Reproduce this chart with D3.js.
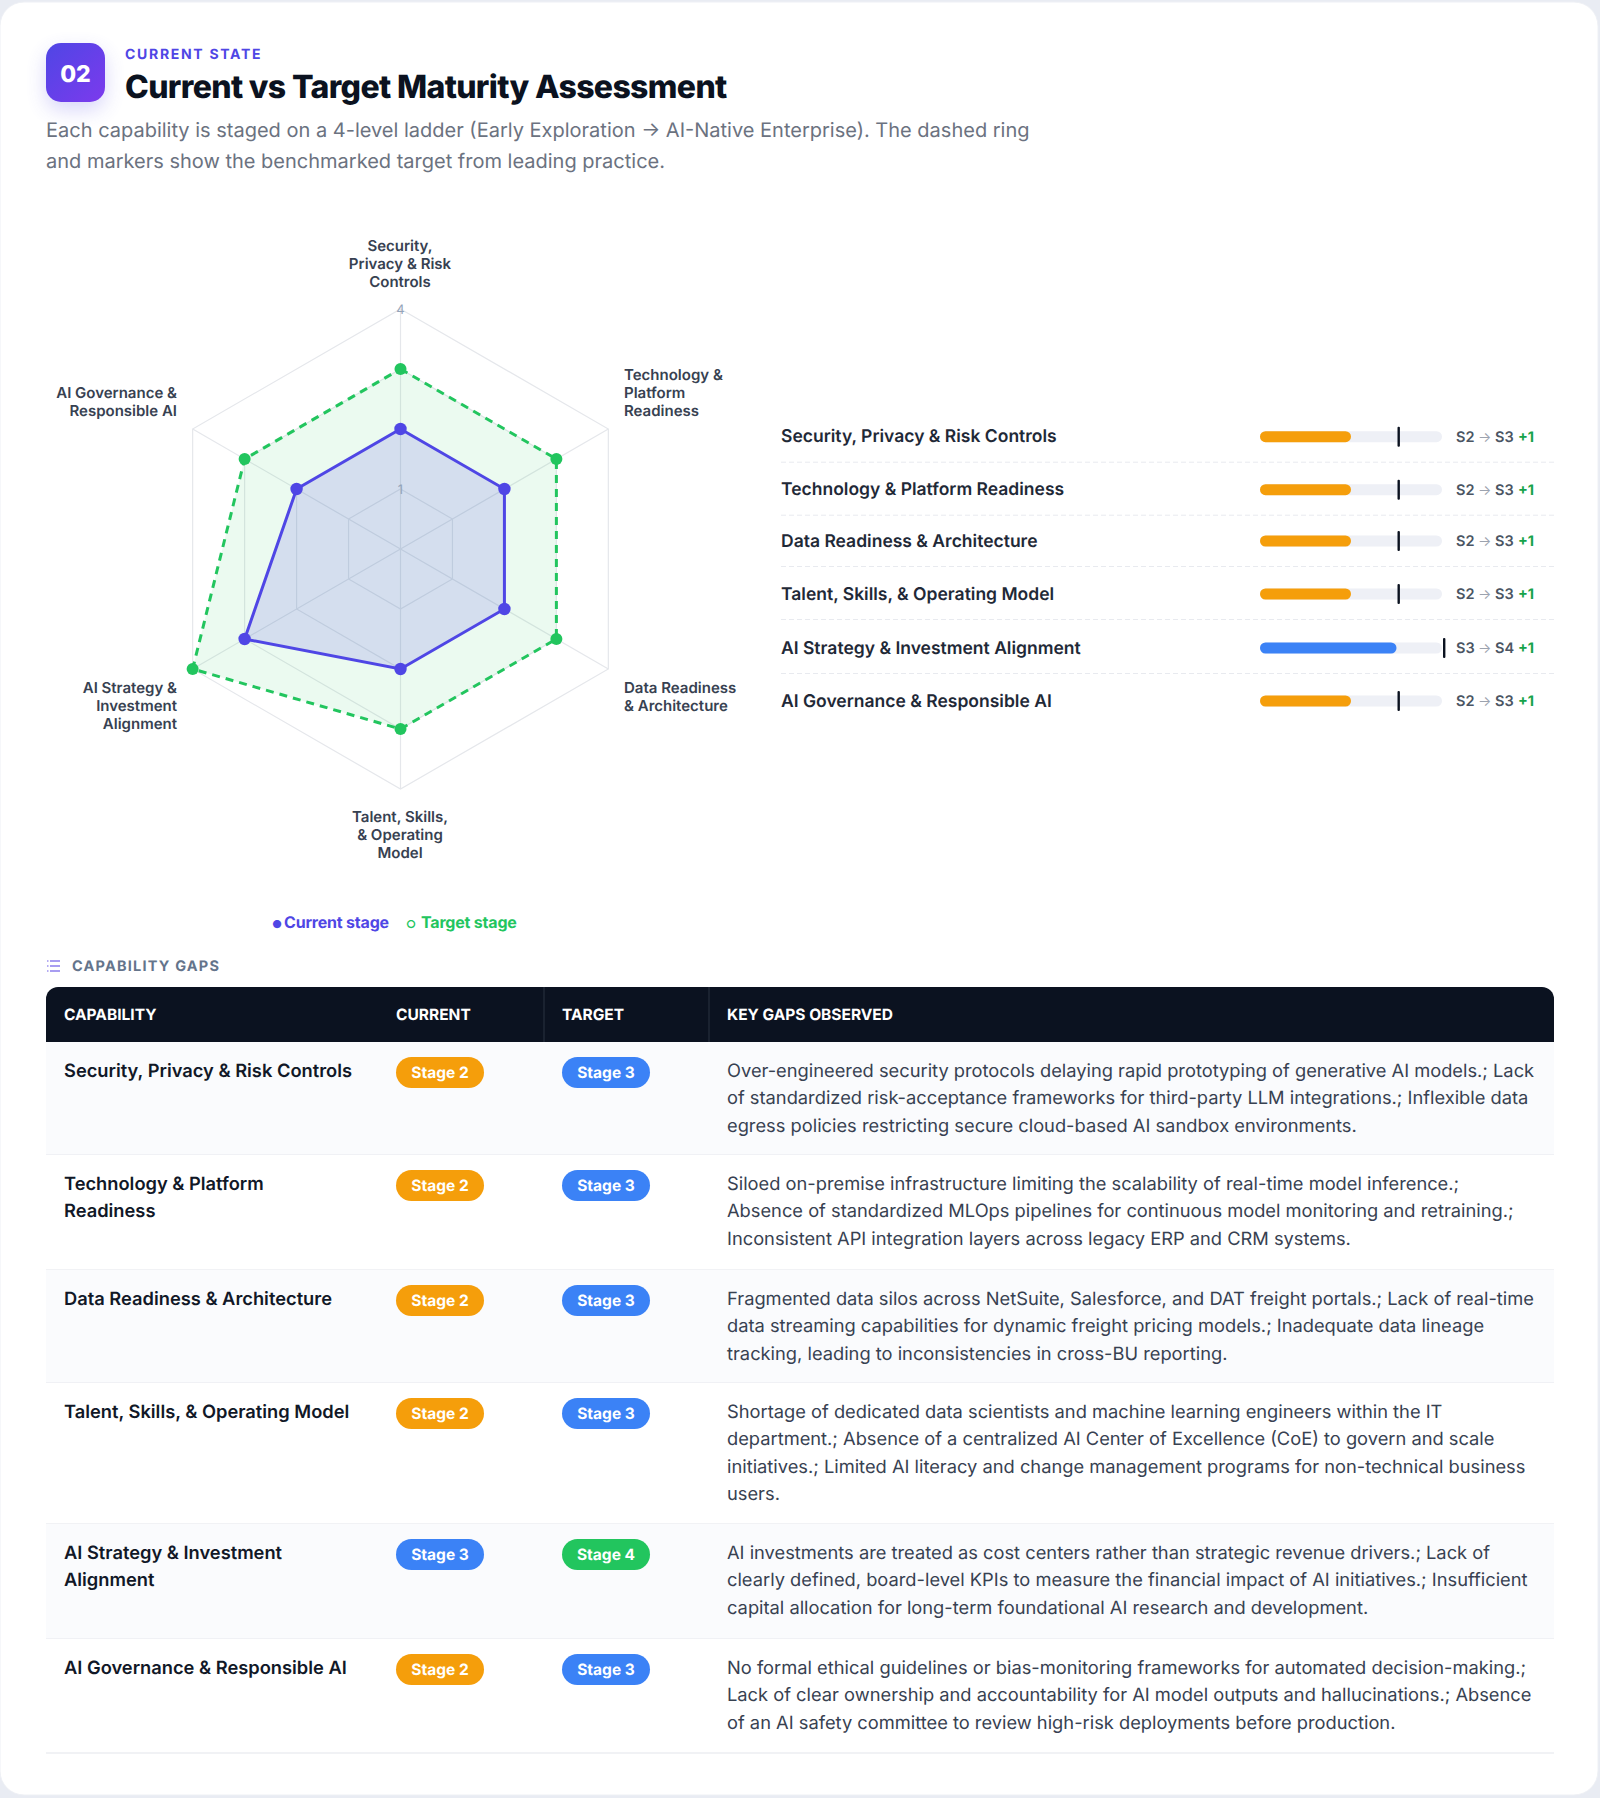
<!DOCTYPE html>
<html><head><meta charset="utf-8">
<script src="https://cdn.jsdelivr.net/npm/d3@7"></script>
<style>html,body{margin:0;padding:0;background:#e9ecf3}svg{display:block}text{font-family:Inter,sans-serif;text-rendering:geometricPrecision}</style>
</head><body><svg id="c" width="1600" height="1798"></svg>
<script>
const capabilities=["Security, Privacy & Risk Controls","Technology & Platform Readiness","Data Readiness & Architecture","Talent, Skills, & Operating Model","AI Strategy & Investment Alignment","AI Governance & Responsible AI"];
const currentStage=[2,2,2,2,3,2];
const targetStage=[3,3,3,3,4,3];
const axisLabels=[["Security,","Privacy & Risk","Controls"],["Technology &","Platform","Readiness"],["Data Readiness","& Architecture"],["Talent, Skills,","& Operating","Model"],["AI Strategy &","Investment","Alignment"],["AI Governance &","Responsible AI"]];
const tableCapability=[["Security, Privacy & Risk Controls"],["Technology & Platform","Readiness"],["Data Readiness & Architecture"],["Talent, Skills, & Operating Model"],["AI Strategy & Investment","Alignment"],["AI Governance & Responsible AI"]];
const gapLines=[
["Over-engineered security protocols delaying rapid prototyping of generative AI models.; Lack","of standardized risk-acceptance frameworks for third-party LLM integrations.; Inflexible data","egress policies restricting secure cloud-based AI sandbox environments."],
["Siloed on-premise infrastructure limiting the scalability of real-time model inference.;","Absence of standardized MLOps pipelines for continuous model monitoring and retraining.;","Inconsistent API integration layers across legacy ERP and CRM systems."],
["Fragmented data silos across NetSuite, Salesforce, and DAT freight portals.; Lack of real-time","data streaming capabilities for dynamic freight pricing models.; Inadequate data lineage","tracking, leading to inconsistencies in cross-BU reporting."],
["Shortage of dedicated data scientists and machine learning engineers within the IT","department.; Absence of a centralized AI Center of Excellence (CoE) to govern and scale","initiatives.; Limited AI literacy and change management programs for non-technical business","users."],
["AI investments are treated as cost centers rather than strategic revenue drivers.; Lack of","clearly defined, board-level KPIs to measure the financial impact of AI initiatives.; Insufficient","capital allocation for long-term foundational AI research and development."],
["No formal ethical guidelines or bias-monitoring frameworks for automated decision-making.;","Lack of clear ownership and accountability for AI model outputs and hallucinations.; Absence","of an AI safety committee to review high-risk deployments before production."]];
const gridLevels=[1,2,3,4];
const tickLabels=[1,4];
const tableHeaders=["CAPABILITY","CURRENT","TARGET","KEY GAPS OBSERVED"];
const subtitleLines=["Each capability is staged on a 4-level ladder (Early Exploration → AI-Native Enterprise). The dashed ring","and markers show the benchmarked target from leading practice."];

const svg=d3.select("#c");
const defs=svg.append("defs");
const grad=defs.append("linearGradient").attr("id","bg").attr("x1",0).attr("y1",0).attr("x2",1).attr("y2",1);
grad.append("stop").attr("offset",0).attr("stop-color","#4f46e5");
grad.append("stop").attr("offset",1).attr("stop-color","#7c3aed");
const blur=defs.append("filter").attr("id","sh").attr("x","-60%").attr("y","-60%").attr("width","220%").attr("height","220%");
blur.append("feGaussianBlur").attr("stdDeviation",10);
function T(g,x,y,s,o={}){const t=g.append("text").attr("x",x).attr("y",y).text(s)
 .attr("font-size",o.size||16).attr("font-weight",o.w||400).attr("fill",o.c||"#111").attr("text-anchor",o.a||"start");
 if(o.ls)t.attr("letter-spacing",o.ls);return t;}

svg.append("rect").attr("x",0).attr("y",2).attr("width",1598).attr("height",1793).attr("rx",24).attr("fill","#fff").attr("stroke","#eef0f5").attr("stroke-width",1);

// header
svg.append("rect").attr("x",46).attr("y",51).attr("width",59).attr("height",59).attr("rx",15).attr("fill","#4f46e5").attr("opacity",.22).attr("filter","url(#sh)");
svg.append("rect").attr("x",46).attr("y",43).attr("width",59).attr("height",59).attr("rx",15).attr("fill","url(#bg)");
T(svg,75.5,82,"02",{size:23,w:800,c:"#fff",a:"middle"});
T(svg,125,59,"CURRENT STATE",{size:14,w:700,c:"#4f46e5",ls:"1.7px"});
T(svg,125,98,"Current vs Target Maturity Assessment",{size:32,w:800,c:"#0b1220",ls:"-0.65px"});
subtitleLines.forEach((l,i)=>T(svg,46,137+i*31,l,{size:20,c:"#6b7280"}));

// radar
const cx=400.5,cy=549,R=240,n=capabilities.length;
const r=d3.scaleLinear().domain([0,4]).range([0,R]);
const ang=d3.scaleLinear().domain([0,n]).range([0,2*Math.PI]);
const radial=d3.lineRadial().angle((d,i)=>ang(i)).radius(d=>r(d)).curve(d3.curveLinearClosed);
const g=svg.append("g").attr("transform",`translate(${cx},${cy})`);
g.selectAll(".ring").data(gridLevels).join("path").attr("d",l=>radial(capabilities.map(()=>l))).attr("fill","none").attr("stroke","#e5e7eb").attr("stroke-width",1.2);
g.selectAll(".spoke").data(capabilities).join("line").attr("x1",0).attr("y1",0)
 .attr("x2",(d,i)=>r(4)*Math.sin(ang(i))).attr("y2",(d,i)=>-r(4)*Math.cos(ang(i))).attr("stroke","#e5e7eb").attr("stroke-width",1.2);
g.append("path").attr("d",radial(targetStage)).attr("fill","#22c55e").attr("fill-opacity",.09).attr("stroke","#22c55e").attr("stroke-width",3).attr("stroke-dasharray","8 6");
g.append("path").attr("d",radial(currentStage)).attr("fill","#4f46e5").attr("fill-opacity",.15).attr("stroke","#4f46e5").attr("stroke-width",3);
const dots=(arr,col,rad)=>g.selectAll(null).data(arr).join("circle").attr("cx",(d,i)=>r(d)*Math.sin(ang(i))).attr("cy",(d,i)=>-r(d)*Math.cos(ang(i))).attr("r",rad).attr("fill",col);
dots(targetStage,"#22c55e",6);dots(currentStage,"#4f46e5",6.2);
tickLabels.forEach(t=>T(g,0,-r(t)+5,t,{size:13,c:"#94a3b8",a:"middle"}));
const labelPos=[[400,251,"middle"],[624,380,"start"],[624,693,"start"],[400,822,"middle"],[177,693,"end"],[177,398,"end"]];
axisLabels.forEach((ls,i)=>ls.forEach((l,j)=>T(svg,labelPos[i][0],labelPos[i][1]+j*18,l,{size:15,w:600,c:"#374151",a:labelPos[i][2]})));

// legend
T(svg,272,928,"●",{size:11,w:700,c:"#4f46e5"});
T(svg,284,928,"Current stage",{size:16,w:700,c:"#4f46e5",ls:"-0.2px"});
T(svg,406,928,"○",{size:11,w:700,c:"#22c55e"});
T(svg,421,928,"Target stage",{size:16,w:700,c:"#22c55e",ls:"-0.2px"});

// side list
const stageColor=d3.scaleOrdinal().domain([2,3,4]).range(["#f59e0b","#3b82f6","#22c55e"]);
const bx=d3.scaleLinear().domain([0,4]).range([0,182]);
const rowY=[436.7,489.7,541,594,648,701];
const side=svg.selectAll(".side").data(capabilities).join("g").attr("transform",(d,i)=>`translate(0,${rowY[i]})`);
side.each(function(d,i){const s=d3.select(this);
 T(s,781,0+.5+5,d,{size:17.5,w:600,c:"#1f2937"});
 s.append("rect").attr("x",1260).attr("y",-5.5).attr("width",bx(4)).attr("height",11).attr("rx",5.5).attr("fill","#eef0f6");
 s.append("rect").attr("x",1260).attr("y",-5.5).attr("width",bx(currentStage[i])).attr("height",11).attr("rx",5.5).attr("fill",stageColor(currentStage[i]));
 s.append("rect").attr("x",1260+bx(targetStage[i])+1).attr("y",-10).attr("width",2.4).attr("height",20).attr("rx",1).attr("fill","#0b1220");
 T(s,1456,5,"S"+currentStage[i],{size:14.5,w:600,c:"#4b5563"});
 T(s,1478,5,"→",{size:14,c:"#9ca3af"});
 T(s,1495,5,"S"+targetStage[i],{size:14.5,w:600,c:"#4b5563"});
 T(s,1518,5,"+"+(targetStage[i]-currentStage[i]),{size:14.5,w:700,c:"#16a34a"});
 if(i<n-1)s.append("line").attr("x1",781).attr("x2",1554).attr("y1",25.5).attr("y2",25.5).attr("stroke","#e8eaef").attr("stroke-dasharray","5 3");
});

// section label
const ic=svg.append("g").attr("stroke","#6d5ce7").attr("stroke-width",1.2);
[0,1,2].forEach(k=>{ic.append("line").attr("x1",50).attr("x2",60).attr("y1",961+k*5).attr("y2",961+k*5);ic.append("line").attr("x1",47).attr("x2",48.5).attr("y1",961+k*5).attr("y2",961+k*5);});
T(svg,72,971,"CAPABILITY GAPS",{size:14.5,w:700,c:"#64748b",ls:"1.2px"});

// table
const colX=[64,396,562,727];
svg.append("path").attr("d","M46,1042V999a12,12 0 0 1 12,-12H1542a12,12 0 0 1 12,12V1042Z").attr("fill","#0b1220");
[544,709].forEach(x=>svg.append("line").attr("x1",x).attr("x2",x).attr("y1",987).attr("y2",1042).attr("stroke","#2a3240"));
tableHeaders.forEach((h,i)=>T(svg,colX[i],1020,h,{size:15.5,w:700,c:"#fff"}));
const rowEdges=[1042,1155,1270,1383,1524,1639,1753];
capabilities.forEach((c,i)=>{
 const top=rowEdges[i],bot=rowEdges[i+1];
 svg.append("rect").attr("x",46).attr("y",top).attr("width",1508).attr("height",bot-top).attr("fill",i%2==0?"#fafbfd":"#fff");
 svg.append("line").attr("x1",46).attr("x2",1554).attr("y1",bot).attr("y2",bot).attr("stroke","#eceef2").attr("stroke-width",1.5);
 tableCapability[i].forEach((l,j)=>T(svg,64,top+35+j*27.3,l,{size:18.3,w:600,c:"#111827"}));
 [[currentStage[i],396],[targetStage[i],562]].forEach(([s,x])=>{
  svg.append("rect").attr("x",x).attr("y",top+15).attr("width",88).attr("height",31).attr("rx",15.5).attr("fill",stageColor(s));
  T(svg,x+44,top+36,"Stage "+s,{size:15.5,w:700,c:"#fff",a:"middle"});
 });
 gapLines[i].forEach((l,j)=>T(svg,727,top+35+j*27.3,l,{size:18.3,c:"#374151"}));
});
</script></body></html>
